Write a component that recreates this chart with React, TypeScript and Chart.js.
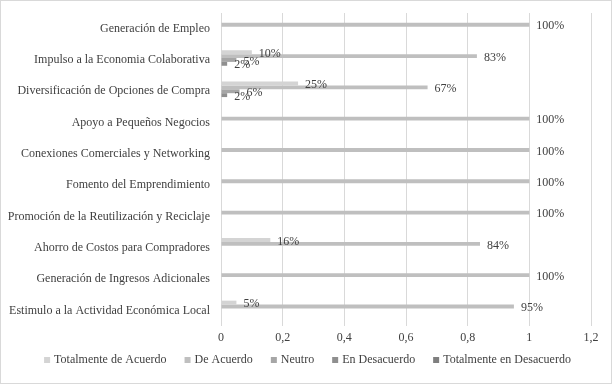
import React, { useEffect, useRef } from "react";
import { Chart, registerables } from "chart.js";

Chart.register(...registerables);

const categories = [
  "Generación de Empleo",
  "Impulso a la Economia Colaborativa",
  "Diversificación de Opciones de Compra",
  "Apoyo a Pequeños Negocios",
  "Conexiones Comerciales y Networking",
  "Fomento del Emprendimiento",
  "Promoción de la Reutilización y Reciclaje",
  "Ahorro de Costos para Compradores",
  "Generación de Ingresos Adicionales",
  "Estimulo a la Actividad Económica Local",
];

const seriesNames = [
  "Totalmente de Acuerdo",
  "De Acuerdo",
  "Neutro",
  "En Desacuerdo",
  "Totalmente en Desacuerdo",
];

const totalmenteDeAcuerdo = [0, 0.1, 0.25, 0, 0, 0, 0, 0.16, 0, 0.05];
const deAcuerdo = [1, 0.83, 0.67, 1, 1, 1, 1, 0.84, 1, 0.95];
const neutro = [0, 0.05, 0.06, 0, 0, 0, 0, 0, 0, 0];
const enDesacuerdo = [0, 0.02, 0.02, 0, 0, 0, 0, 0, 0, 0];
const totalmenteEnDesacuerdo = [0, 0, 0, 0, 0, 0, 0, 0, 0, 0];

const xTicks = [0, 0.2, 0.4, 0.6, 0.8, 1, 1.2];

const seriesColors = ["#d4d4d4", "#bfbfbf", "#a6a6a6", "#8f8f8f", "#7f7f7f"];

const FONT = "'Liberation Serif', 'Times New Roman', serif";
const TEXT = "#404040";

const valueLabels = {
  id: "valueLabels",
  afterDatasetsDraw(chart: any) {
    const ctx = chart.ctx;
    ctx.save();
    ctx.font = `12px ${FONT}`;
    ctx.fillStyle = TEXT;
    ctx.textAlign = "left";
    ctx.textBaseline = "middle";
    chart.data.datasets.forEach((ds: any, di: number) => {
      const meta = chart.getDatasetMeta(di);
      meta.data.forEach((bar: any, i: number) => {
        const v = ds.data[i];
        if (!v) return;
        ctx.fillText(`${Math.round(v * 100)}%`, bar.x + 7, bar.y + 1.5);
      });
    });
    ctx.restore();
  },
};

const bottomLegend = {
  id: "bottomLegend",
  afterDraw(chart: any) {
    const ctx = chart.ctx;
    ctx.save();
    ctx.font = `12px ${FONT}`;
    ctx.textBaseline = "middle";
    ctx.textAlign = "left";
    const box = 6;
    const gapBT = 4;
    const gapItem = 18;
    const items = chart.data.datasets.map((ds: any) => ({
      text: ds.label,
      color: ds.backgroundColor,
      w: ctx.measureText(ds.label).width,
    }));
    const total =
      items.reduce((s: number, it: any) => s + box + gapBT + it.w, 0) + gapItem * (items.length - 1);
    let x = 307.5 - total / 2;
    const y = 360;
    items.forEach((it: any) => {
      ctx.fillStyle = it.color;
      ctx.fillRect(x, y - box / 2, box, box);
      x += box + gapBT;
      ctx.fillStyle = TEXT;
      ctx.fillText(it.text, x, y);
      x += it.w + gapItem;
    });
    ctx.strokeStyle = "#d9d9d9";
    ctx.lineWidth = 1;
    ctx.strokeRect(0.5, 0.5, chart.width - 1, chart.height - 1);
    ctx.restore();
  },
};

export default function App() {
  const ref = useRef<HTMLCanvasElement>(null);
  useEffect(() => {
    if (!ref.current) return;
    const all = [totalmenteDeAcuerdo, deAcuerdo, neutro, enDesacuerdo, totalmenteEnDesacuerdo];
    const chart = new Chart(ref.current, {
      type: "bar",
      data: {
        labels: categories,
        datasets: all.map((d, i) => ({
          label: seriesNames[i],
          data: d,
          backgroundColor: seriesColors[i],
          borderWidth: 0,
          categoryPercentage: 0.62,
          barPercentage: 1,
        })),
      },
      options: {
        indexAxis: "y",
        responsive: false,
        animation: false,
        layout: { padding: { top: 13, right: 21, bottom: 38, left: 0 } },
        plugins: {
          tooltip: { enabled: false },
          legend: { display: false },
        },
        scales: {
          x: {
            min: 0,
            max: 1.2,
            afterBuildTicks(scale: any) {
              scale.ticks = xTicks.map((v) => ({ value: v }));
            },
            afterFit(scale: any) {
              scale.height = 20;
              scale.paddingLeft = 0;
              scale.paddingRight = 0;
            },
            grid: { color: "#d9d9d9", drawTicks: false },
            border: { display: false },
            ticks: {
              autoSkip: false,
              padding: 5,
              color: TEXT,
              font: { family: FONT, size: 12 },
              callback: (v: any) => String(Math.round(Number(v) * 10) / 10).replace(".", ","),
            },
          },
          y: {
            afterFit(scale: any) {
              scale.width = 221;
              scale.paddingTop = 0;
              scale.paddingBottom = 0;
            },
            grid: { display: false, drawTicks: false },
            border: { display: false },
            ticks: {
              autoSkip: false,
              padding: 11,
              color: TEXT,
              font: { family: FONT, size: 12 },
            },
          },
        },
      },
      plugins: [valueLabels, bottomLegend],
    });
    return () => chart.destroy();
  }, []);
  return (
    <div style={{ position: "absolute", left: 0, top: 0, width: 612, height: 384, background: "#fff" }}>
      <canvas ref={ref} width={612} height={384} />
    </div>
  );
}
